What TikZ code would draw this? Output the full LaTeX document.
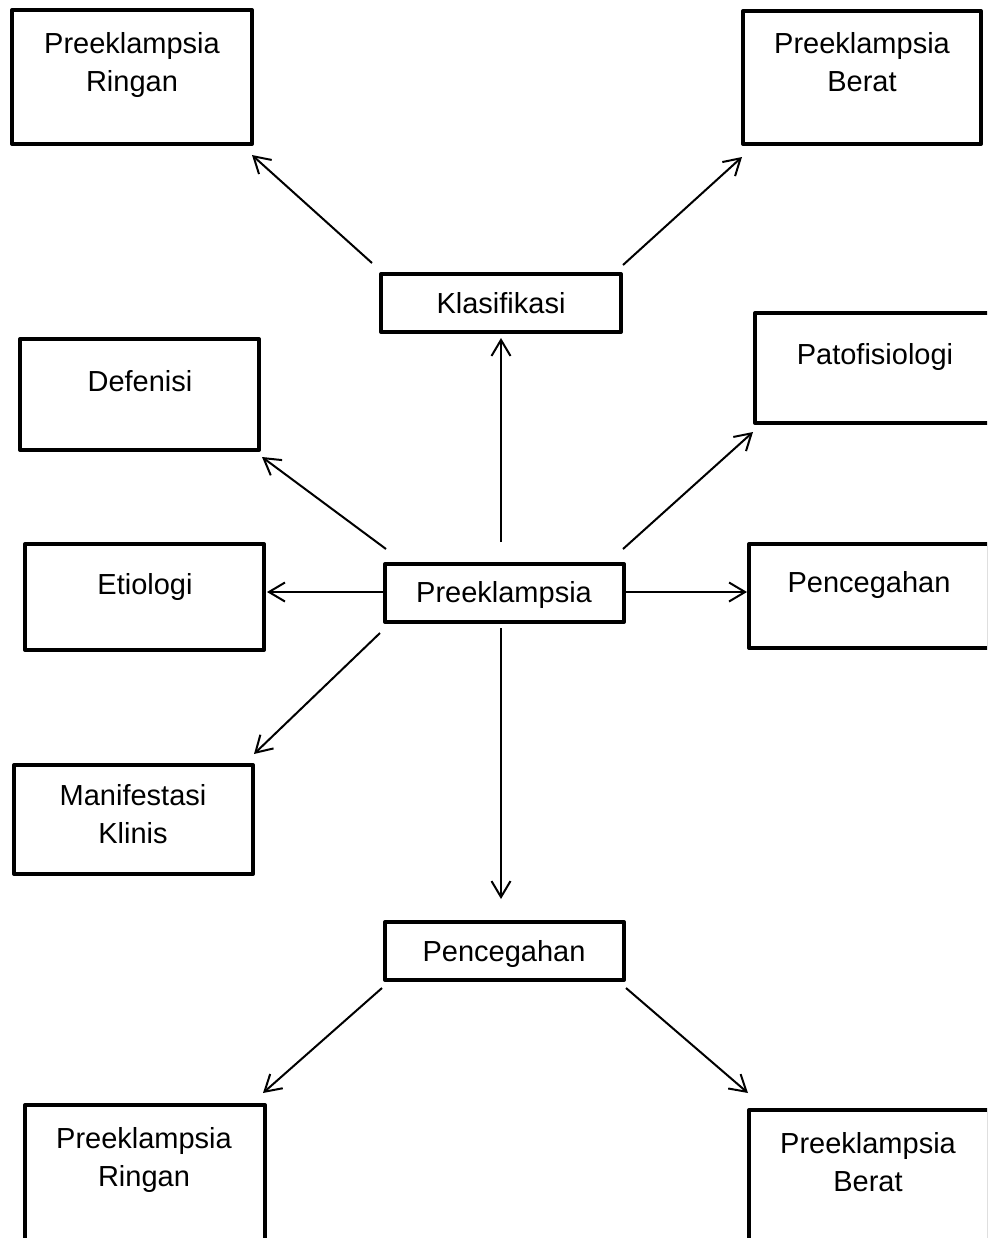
\documentclass[tikz,border=0pt]{standalone}
\usepackage{fontspec}
\setmainfont{Liberation Sans}
\usetikzlibrary{arrows.meta,calc}
\begin{document}
\begin{tikzpicture}[x=0.5pt,y=-0.5pt,
  box/.style={draw=black, line width=2pt, line join=round, rectangle, inner sep=0pt, outer sep=0pt},
  lbl/.style={anchor=base, inner sep=0pt, font=\fontsize{14.5}{19}\selectfont},
  arr/.style={draw=black, line width=1pt, -{Straight Barb[length=8pt,width=9.5pt]}}]
\useasboundingbox (0,0) rectangle (987,1238);
\clip (0,0) rectangle (987,1238);
% boxes
\node[box, minimum width=120pt, minimum height=67pt]   (prt)  at (132,77) {};
\node[box, minimum width=119pt, minimum height=66.5pt] (pbt)  at (862,77.5) {};
\node[box, minimum width=120pt, minimum height=29pt]   (klas) at (501,303) {};
\node[box, minimum width=119.5pt, minimum height=55.5pt] (def) at (139.5,394.5) {};
\node[box, minimum width=120pt, minimum height=55pt]   (pato) at (875,368) {};
\node[box, minimum width=119.5pt, minimum height=53pt] (etio) at (144.5,597) {};
\node[box, minimum width=119.5pt, minimum height=29pt] (pre)  at (504.5,593) {};
\node[box, minimum width=120pt, minimum height=52pt]   (pcr)  at (869,596) {};
\node[box, minimum width=119.5pt, minimum height=54.5pt] (man) at (133.5,819.5) {};
\node[box, minimum width=119.5pt, minimum height=29pt] (pcb)  at (504.5,951) {};
\node[box, minimum width=120pt, minimum height=69pt]   (prb)  at (145,1174) {};
\node[box, minimum width=120pt, minimum height=69pt]   (pbb)  at (869,1179) {};
% texts
\node[lbl] (prtT)  at (132,53)  {\begin{tabular}[t]{@{}c@{}}Preeklampsia\\Ringan\end{tabular}};
\node[lbl] (pbtT)  at (862,53)  {\begin{tabular}[t]{@{}c@{}}Preeklampsia\\Berat\end{tabular}};
\node[lbl] (klasT) at (501,313) {Klasifikasi};
\node[lbl] (defT)  at (140,391) {Defenisi};
\node[lbl] (patoT) at (875,364) {Patofisiologi};
\node[lbl] (etioT) at (145,594) {Etiologi};
\node[lbl] (preT)  at (504,602) {Preeklampsia};
\node[lbl] (pcrT)  at (869,592) {Pencegahan};
\node[lbl] (manT)  at (133,805) {\begin{tabular}[t]{@{}c@{}}Manifestasi\\Klinis\end{tabular}};
\node[lbl] (pcbT)  at (504,961) {Pencegahan};
\node[lbl] (prbT)  at (144,1148) {\begin{tabular}[t]{@{}c@{}}Preeklampsia\\Ringan\end{tabular}};
\node[lbl] (pbbT)  at (868,1153) {\begin{tabular}[t]{@{}c@{}}Preeklampsia\\Berat\end{tabular}};
% connectors
\draw[arr] ($(klas.north west)+(-9,-11)$) -- ($(prt.south east)+(0,11)$);
\draw[arr] ($(klas.north east)+(2,-9)$) -- ($(pbt.south west)+(-1,13)$);
\draw[arr] ($(pre.north)+(-3.5,-22)$) -- ($(klas.south)+(0,6)$);
\draw[arr] ($(pre.north west)+(1,-15)$) -- ($(def.south east)+(3,7)$);
\draw[arr] ($(pre.north east)+(-1,-15)$) -- ($(pato.south west)+(-2,9)$);
\draw[arr] ($(pre.west)+(-2,-1)$) -- ($(etio.east)+(3,-5)$);
\draw[arr] ($(pre.east)+(2,-1)$) -- ($(pcr.west)+(-2,-4)$);
\draw[arr] ($(pre.south west)+(-5,11)$) -- ($(man.north east)+(1,-11)$);
\draw[arr] ($(pre.south)+(-3.5,6)$) -- ($(pcb.north)+(-3.5,-23)$);
\draw[arr] ($(pcb.south west)+(-3,8)$) -- ($(prb.north east)+(-2,-12)$);
\draw[arr] ($(pcb.south east)+(2,8)$) -- ($(pbb.north west)+(-1,-17)$);
\end{tikzpicture}
\end{document}
